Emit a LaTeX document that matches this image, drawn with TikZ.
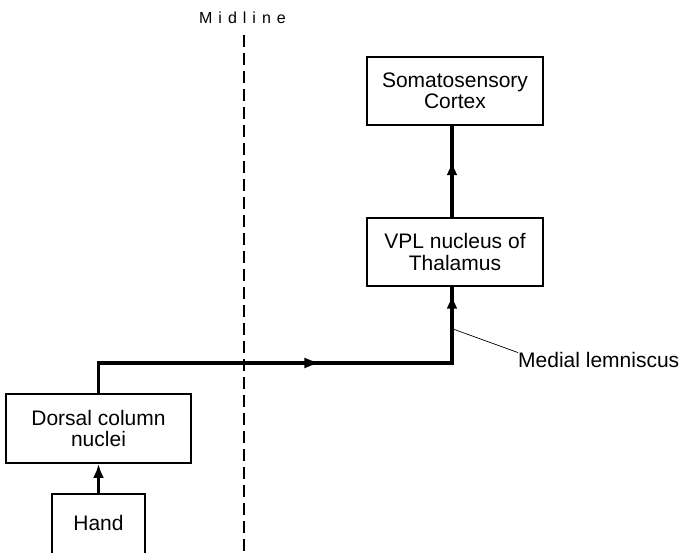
\documentclass[tikz,border=0pt]{standalone}
\usepackage{fontspec}
\setmainfont{Liberation Sans}
\usetikzlibrary{arrows.meta,decorations.markings}
\begin{document}
\begin{tikzpicture}[x=1pt,y=-1pt,
  txt/.style={font=\fontsize{21}{21.5}\selectfont},
  box/.style={txt, draw, line width=1.8pt, minimum width=176pt, minimum height=68pt, align=center, inner sep=0pt},
  conn/.style={line width=3.3pt},
  leader/.style={line width=0.7pt},
  midl/.style={line width=1.4pt, dash pattern=on 12pt off 6pt}]
\useasboundingbox (0,0) rectangle (683,553);
\node[box] (cortex) at (455,91) {Somatosensory\\Cortex};
\node[box] (vpl) at (455,252) {VPL nucleus of\\Thalamus};
\node[box, minimum width=185pt, minimum height=69pt] (dorsal) at (98.5,428.5) {Dorsal column\\nuclei};
\node[txt, draw, line width=1.8pt, inner sep=0pt, text height=36.5pt, text depth=40pt, minimum width=93pt, anchor=base] (hand) at (98.5,530.5) {Hand};
\node[txt, anchor=base west, inner sep=0pt] (ml) at (518,368) {Medial lemniscus};
\node[font=\fontsize{16}{16}\selectfont, inner sep=0pt] (midline) at (242.5,18)
  {M\hspace{6pt}i\hspace{6pt}d\hspace{6pt}l\hspace{6pt}i\hspace{6pt}n\hspace{6pt}e};
\coordinate (mtop) at (244,35);
\coordinate (mbot) at (244,560);
\coordinate (lcorner) at (452,363);
\coordinate (mlp) at (453,329);
\draw[midl] (mtop) -- (mbot);
\draw[conn, -{Latex[length=14pt,width=11pt]}] (hand.north) -- (dorsal.south);
\draw[conn, postaction={decorate}, decoration={markings,
    mark=at position 253pt with {\arrow{Latex[length=17pt,width=11pt]}},
    mark=at position 452pt with {\arrow{Latex[length=14pt,width=11pt]}}}]
  (dorsal.north) |- (lcorner) -- ([xshift=-3pt]vpl.south);
\draw[conn, postaction={decorate}, decoration={markings,
    mark=at position 56pt with {\arrow{Latex[length=14pt,width=11pt]}}}]
  ([xshift=-3pt]vpl.north) -- ([xshift=-3pt]cortex.south);
\draw[leader] (mlp) -- (ml.north west);
\end{tikzpicture}
\end{document}
